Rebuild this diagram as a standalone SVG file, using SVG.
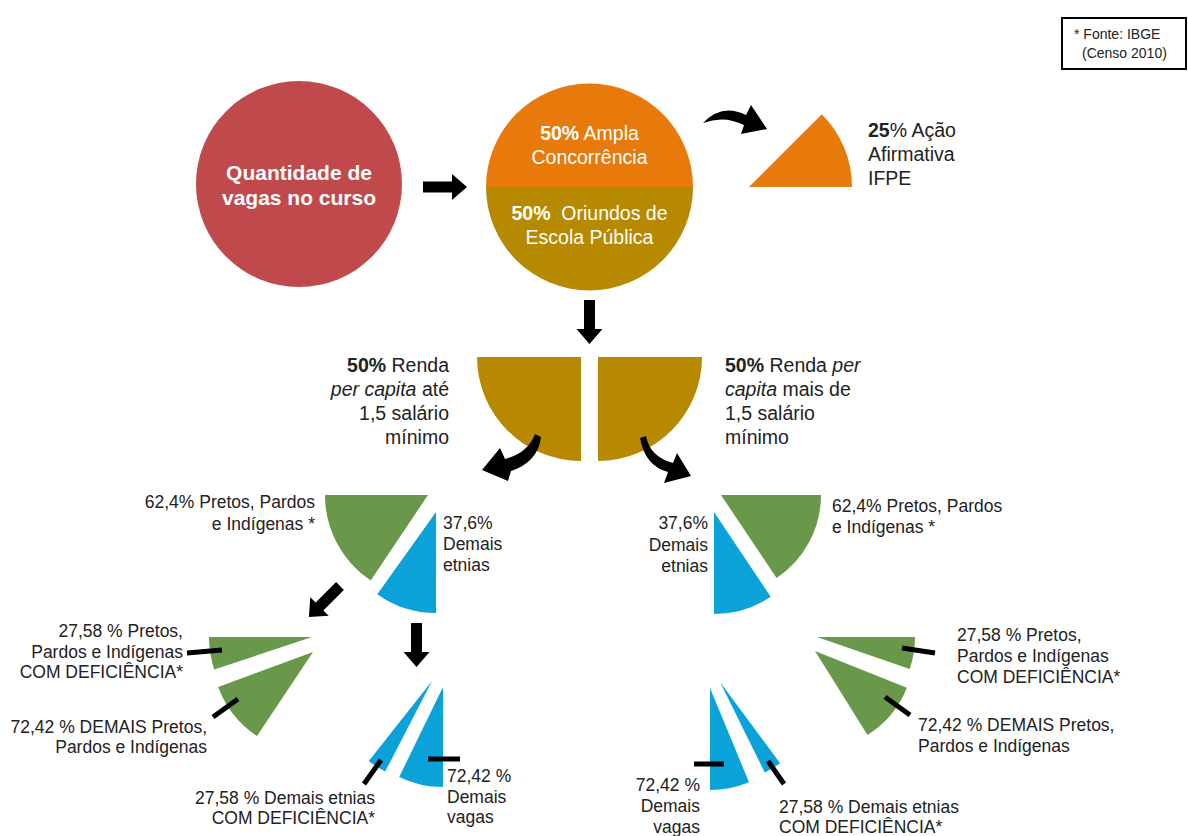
<svg xmlns="http://www.w3.org/2000/svg" width="1188" height="836" viewBox="0 0 1188 836">
<style>
text{font-family:"Liberation Sans",Arial,Helvetica,sans-serif;fill:#222}
.w{fill:#fff}
.t17{font-size:17.5px}
.t19{font-size:19.5px}
.b{font-weight:bold}
.i{font-style:italic}
.e{text-anchor:end}
.m{text-anchor:middle}
.red{fill:#C04A4B}
.org{fill:#E8790B}
.gld{fill:#B78900}
.grn{fill:#69984B}
.blu{fill:#0BA2DA}
.tick{stroke:#000;stroke-width:5;fill:none}
</style>
<defs>
<polygon id="arr" points="0,-5.5 29,-5.5 29,-13 44,0 29,13 29,5.5 0,5.5" fill="#000"/>
</defs>
<rect width="1188" height="836" fill="#fff"/>

<g id="fonte">
<rect x="1062" y="18" width="124" height="51" fill="none" stroke="#000" stroke-width="2"/>
<text x="1074" y="39" style="font-size:14px">* Fonte: IBGE</text>
<text x="1082" y="58" style="font-size:14px">(Censo 2010)</text>
</g>

<g id="vagas">
<circle class="red" cx="299" cy="184" r="103"/>
<text class="w b m" x="299" y="180" style="font-size:21px">Quantidade de</text>
<text class="w b m" x="299" y="205" style="font-size:21px">vagas no curso</text>
</g>

<g id="divisao">
<path class="org" d="M486,187 A103.5,103.5 0 0 1 693,187 Z"/>
<path class="gld" d="M486,187 A103.5,103.5 0 0 0 693,187 Z"/>
<text class="w t19 m" x="589.5" y="140"><tspan class="w b">50%</tspan> Ampla</text>
<text class="w t19 m" x="589.5" y="164">Concorrência</text>
<text class="w t19 m" x="589.5" y="220" xml:space="preserve"><tspan class="w b">50%</tspan>  Oriundos de</text>
<text class="w t19 m" x="589.5" y="244">Escola Pública</text>
</g>

<g id="acao">
<path class="org" d="M749,187 L821.8,114.2 A103,103 0 0 1 852,187 Z"/>
<text class="t19" x="868" y="137"><tspan class="b">25</tspan>% Ação</text>
<text class="t19" x="868" y="161">Afirmativa</text>
<text class="t19" x="868" y="185">IFPE</text>
</g>

<g id="renda-ate">
<path class="gld" d="M581,357 L477,357 A104,104 0 0 0 581,461 Z"/>
<text class="t19 e" x="449" y="372"><tspan class="b">50%</tspan> Renda</text>
<text class="t19 e" x="449" y="396"><tspan class="i">per capita</tspan> até</text>
<text class="t19 e" x="449" y="420">1,5 salário</text>
<text class="t19 e" x="449" y="444">mínimo</text>
</g>

<g id="renda-mais">
<path class="gld" d="M598,357 L702,357 A104,104 0 0 1 598,461 Z"/>
<text class="t19" x="725" y="372"><tspan class="b">50%</tspan> Renda <tspan class="i">per</tspan></text>
<text class="t19" x="725" y="396"><tspan class="i">capita</tspan> mais de</text>
<text class="t19" x="725" y="420">1,5 salário</text>
<text class="t19" x="725" y="444">mínimo</text>
</g>

<g id="l-ppi">
<path class="grn" d="M428,495 L325,495 A103,103 0 0 0 370.7,580.6 Z"/>
<text class="t17 e" x="315" y="508">62,4% Pretos, Pardos</text>
<text class="t17 e" x="315" y="530">e Indígenas *</text>
</g>
<g id="l-demais">
<path class="blu" d="M436,512 L436,613 A101,101 0 0 1 377.3,594.2 Z"/>
<text class="t17" x="443" y="529">37,6%</text>
<text class="t17" x="443" y="550">Demais</text>
<text class="t17" x="443" y="571">etnias</text>
</g>

<g id="r-ppi">
<path class="grn" d="M721,495 L821,495 A100,100 0 0 1 776.6,578.1 Z"/>
<text class="t17" x="832" y="512">62,4% Pretos, Pardos</text>
<text class="t17" x="832" y="533">e Indígenas *</text>
</g>
<g id="r-demais">
<path class="blu" d="M714,512 L714,614 A102,102 0 0 0 770.7,596.8 Z"/>
<text class="t17 e" x="708" y="529">37,6%</text>
<text class="t17 e" x="708" y="551">Demais</text>
<text class="t17 e" x="708" y="572">etnias</text>
</g>

<g id="l-ppi-def">
<path class="grn" d="M312,637 L209,637 A103,103 0 0 0 214.3,669.5 Z"/>
<text class="t17 e" x="183" y="637">27,58 % Pretos,</text>
<text class="t17 e" x="183" y="658">Pardos e Indígenas</text>
<text class="t17 e" x="183" y="678">COM DEFICIÊNCIA*</text>
</g>
<g id="l-ppi-demais">
<path class="grn" d="M313,652 L218.2,686.9 A101,101 0 0 0 257,736 Z"/>
<text class="t17 e" x="207" y="733">72,42 % DEMAIS Pretos,</text>
<text class="t17 e" x="207" y="753">Pardos e Indígenas</text>
</g>
<g id="l-et-def">
<path class="blu" d="M432,681 L385.2,771.6 A102,102 0 0 1 368.8,761 Z"/>
<text class="t17 e" x="375" y="804">27,58 % Demais etnias</text>
<text class="t17 e" x="375" y="824">COM DEFICIÊNCIA*</text>
</g>
<g id="l-et-demais">
<path class="blu" d="M443,687 L443,787 A100,100 0 0 1 399.2,776.9 Z"/>
<text class="t17" x="447" y="782">72,42 %</text>
<text class="t17" x="447" y="803">Demais</text>
<text class="t17" x="447" y="823">vagas</text>
</g>

<g id="r-ppi-def">
<path class="grn" d="M817,637 L915,637 A98,98 0 0 1 909.7,668.9 Z"/>
<text class="t17" x="957" y="641">27,58 % Pretos,</text>
<text class="t17" x="957" y="662">Pardos e Indígenas</text>
<text class="t17" x="957" y="683">COM DEFICIÊNCIA*</text>
</g>
<g id="r-ppi-demais">
<path class="grn" d="M815,651 L906.9,687.8 A99,99 0 0 1 867.5,735 Z"/>
<text class="t17" x="918" y="731">72,42 % DEMAIS Pretos,</text>
<text class="t17" x="918" y="752">Pardos e Indígenas</text>
</g>
<g id="r-et-demais">
<path class="blu" d="M710,688 L749,782.2 A102,102 0 0 1 710,790 Z"/>
<text class="t17 e" x="700" y="791">72,42 %</text>
<text class="t17 e" x="700" y="812">Demais</text>
<text class="t17 e" x="700" y="833">vagas</text>
</g>
<g id="r-et-def">
<path class="blu" d="M720,682 L780.1,763.2 A101,101 0 0 1 764.8,772.5 Z"/>
<text class="t17" x="779" y="813">27,58 % Demais etnias</text>
<text class="t17" x="779" y="833">COM DEFICIÊNCIA*</text>
</g>

<g id="connectors">
<use href="#arr" transform="translate(423,187)"/>
<use href="#arr" transform="translate(589.5,300) rotate(90)"/>
<use href="#arr" transform="translate(340,586) rotate(135)"/>
<use href="#arr" transform="translate(416.5,623) rotate(90)"/>
<path fill="#000" d="M703,123 Q722,103 746,115 L751,105 L767,129 L741,134 L744,125 Q724,115 703,123 Z"/>
<path fill="#000" d="M535,434 L541,437 Q538,462 511,471 L508,481 L482,470 L500,448 L505,459 Q528,453 535,434 Z"/>
<path fill="#000" d="M640,438 L646,436 Q650,457 673,463 L677,453 L691,476 L664,483 L668,472 Q645,466 640,438 Z"/>
<line class="tick" x1="187" y1="653" x2="222" y2="650"/>
<line class="tick" x1="213" y1="717" x2="238" y2="699"/>
<line class="tick" x1="381" y1="760" x2="364" y2="784"/>
<line class="tick" x1="428" y1="759" x2="460" y2="759"/>
<line class="tick" x1="902" y1="648" x2="935" y2="653"/>
<line class="tick" x1="885" y1="697" x2="910" y2="715"/>
<line class="tick" x1="694" y1="764" x2="724" y2="764"/>
<line class="tick" x1="768" y1="761" x2="784" y2="784"/>
</g>
</svg>
